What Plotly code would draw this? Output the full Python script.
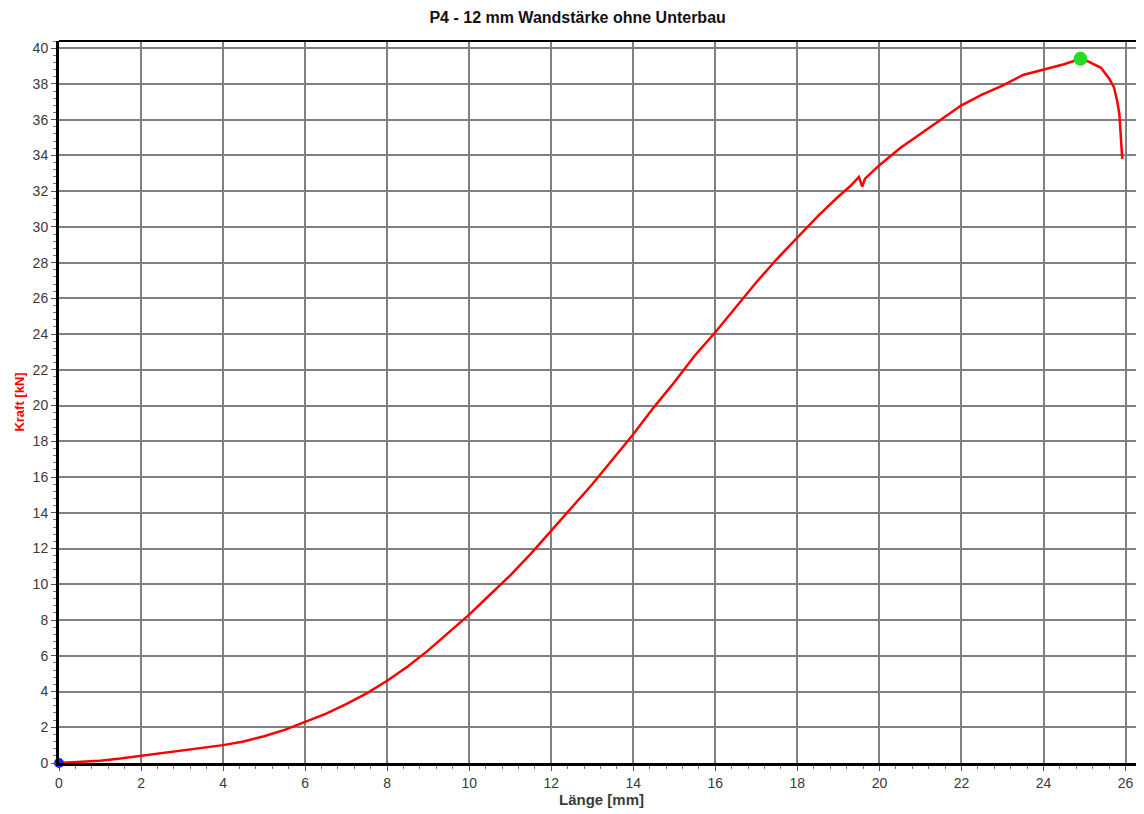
import plotly.graph_objects as go

# Curve data (Länge [mm] vs Kraft [kN])
laenge_mm = [0.0, 0.3, 0.6, 1.0, 1.5, 2.0, 2.5, 3.0, 3.5, 4.0, 4.5, 5.0, 5.5, 6.0, 6.5,
             7.0, 7.5, 8.0, 8.5, 9.0, 9.5, 10.0, 10.5, 11.0, 11.5, 12.0, 12.5, 13.0,
             13.5, 14.0, 14.5, 15.0, 15.5, 16.0, 16.5, 17.0, 17.5, 18.0, 18.5, 19.0,
             19.3, 19.5, 19.58, 19.65, 20.0, 20.5, 21.0, 21.5, 22.0, 22.5, 23.0, 23.5,
             24.0, 24.5, 24.9, 25.1, 25.4, 25.6, 25.72, 25.8, 25.85, 25.88, 25.9, 25.92]
kraft_kN = [0.0, 0.03, 0.07, 0.13, 0.25, 0.4, 0.55, 0.68, 0.83, 1.0, 1.2, 1.5, 1.85, 2.3,
            2.75, 3.3, 3.9, 4.6, 5.4, 6.3, 7.3, 8.3, 9.4, 10.5, 11.7, 13.0, 14.3, 15.6,
            17.0, 18.4, 19.9, 21.3, 22.8, 24.1, 25.5, 26.9, 28.2, 29.4, 30.6, 31.7,
            32.3, 32.8, 32.25, 32.7, 33.45, 34.4, 35.2, 36.0, 36.8, 37.4, 37.9, 38.5,
            38.8, 39.1, 39.4, 39.25, 38.9, 38.3, 37.8, 37.0, 36.3, 35.3, 34.7, 33.8]

peak_x = [24.9]
peak_y = [39.4]
start_x = [0.0]
start_y = [0.0]

x_ticks = list(range(0, 27, 2))
y_ticks = list(range(0, 41, 2))

FONT = "Liberation Sans, Arial, sans-serif"

fig = go.Figure()
fig.add_trace(go.Scatter(x=laenge_mm, y=kraft_kN, mode="lines",
                         line=dict(color="#ff0000", width=2.5), showlegend=False,
                         hoverinfo="x+y"))
fig.add_trace(go.Scatter(x=start_x, y=start_y, mode="markers",
                         marker=dict(color="#2020ff", size=10), showlegend=False,
                         cliponaxis=False))
fig.add_trace(go.Scatter(x=peak_x, y=peak_y, mode="markers",
                         marker=dict(color="#22dd22", size=14), showlegend=False,
                         cliponaxis=False))

axis_font = dict(family=FONT, size=14, color="#3a3a3a")

fig.update_layout(
    width=1136, height=806,
    margin=dict(l=51, r=0, t=33, b=51),
    paper_bgcolor="white", plot_bgcolor="white",
    title=dict(text="<b>P4 - 12 mm Wandstärke ohne Unterbau</b>",
               x=0.478, xref="paper", xanchor="center",
               y=1, yref="container", yanchor="top", pad=dict(t=4),
               font=dict(family=FONT, size=16, color="#111111")),
    xaxis=dict(range=[0, 26.45], tickvals=x_ticks, ticktext=[str(v) for v in x_ticks],
               showgrid=True, gridcolor="#808080", gridwidth=2,
               showline=True, linecolor="black", linewidth=3,
               ticks="outside", ticklen=5, tickcolor="#555555", tickwidth=1,
               minor=dict(dtick=0.4, tick0=0, ticks="outside", ticklen=3, tickcolor="#777777", showgrid=False),
               tickfont=axis_font, zeroline=False,
               title=dict(text="<b>Länge [mm]</b>", standoff=2,
                          font=dict(family=FONT, size=15, color="#3a3a3a"))),
    yaxis=dict(range=[0, 40.4], tickvals=y_ticks, ticktext=[str(v) for v in y_ticks],
               showgrid=True, gridcolor="#808080", gridwidth=2,
               showline=True, linecolor="black", linewidth=3,
               ticks="outside", ticklen=5, tickcolor="#555555", tickwidth=1,
               minor=dict(dtick=0.4, tick0=0, ticks="outside", ticklen=3, tickcolor="#777777", showgrid=False),
               tickfont=axis_font, zeroline=False,
               title=dict(text="<b>Kraft [kN]</b>", standoff=6,
                          font=dict(family=FONT, size=13, color="#ff0000"))),
    shapes=[dict(type="line", xref="paper", yref="paper", x0=0, x1=1, y0=1, y1=1,
                 line=dict(color="black", width=2))],
)

fig.write_html("out.html")
